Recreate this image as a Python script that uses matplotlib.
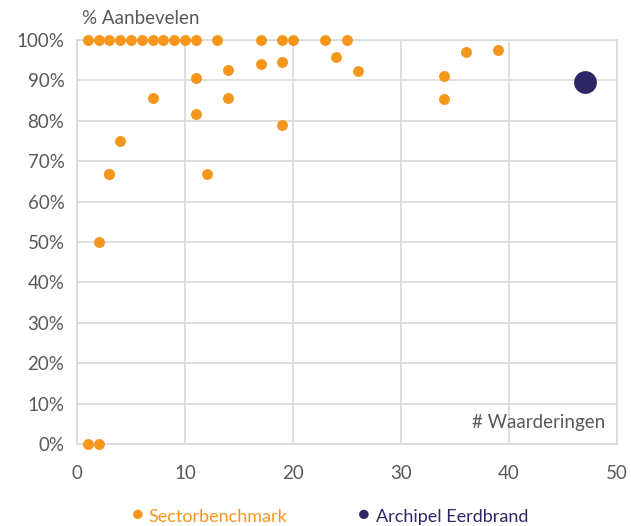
import matplotlib.pyplot as plt
from matplotlib.ticker import PercentFormatter

plt.rcParams['font.family'] = ['Lato', 'DejaVu Sans']

# Sectorbenchmark: aantal waarderingen en % aanbevelen
bench_x = [1, 2, 3, 4, 5, 6, 7, 8, 9, 10, 11, 13, 17, 19, 20, 23, 25,
           11, 14, 17, 19, 24, 26, 7, 14, 11, 4, 3, 3, 12, 19, 2, 1, 2,
           34, 34, 36, 39]
bench_y = [100, 100, 100, 100, 100, 100, 100, 100, 100, 100, 100, 100, 100, 100, 100, 100, 100,
           90.7, 92.6, 94.1, 94.6, 95.7, 92.3, 85.6, 85.6, 81.6, 75, 66.7, 66.7, 66.7, 79, 50, 0, 0,
           91, 85.3, 97, 97.4]

# Archipel Eerdbrand
own_x = [47]
own_y = [89.5]

orange = '#F5971D'
navy = '#2E2765'
grey = '#595959'

fig = plt.figure(figsize=(6.31, 5.26), dpi=100)
ax = fig.add_axes([0.122, 0.156, 0.856, 0.768])

ax.scatter(bench_x, bench_y, s=62, color=orange, zorder=3, clip_on=False, linewidths=0)
ax.scatter(own_x, own_y, s=270, color=navy, zorder=4, clip_on=False, linewidths=0)

ax.set_xlim(0, 50)
ax.set_ylim(0, 100)
ax.set_xticks(range(0, 51, 10))
ax.set_yticks(range(0, 101, 10))
ax.yaxis.set_major_formatter(PercentFormatter(decimals=0))
ax.grid(True, color='#D9D9D9', linewidth=1.2)
ax.set_axisbelow(True)
for side in ['top', 'right', 'left', 'bottom']:
    ax.spines[side].set_color('#D9D9D9')
    ax.spines[side].set_linewidth(1.2)
ax.tick_params(length=0, labelsize=13.5, labelcolor=grey, pad=9)
ax.tick_params(axis='x', pad=15)

fig.text(0.130, 0.965, '% Aanbevelen', color=grey, fontsize=13.5, va='center', ha='left')
ax.text(0.978, 0.054, '# Waarderingen', transform=ax.transAxes, color=grey,
        fontsize=13.5, ha='right', va='center')

# legenda onderaan
fig.text(0.2187, 0.021, '●', color=orange, fontsize=14, ha='center', va='center')
fig.text(0.236, 0.017, 'Sectorbenchmark', color=orange, fontsize=13, ha='left', va='center')
fig.text(0.577, 0.021, '●', color=navy, fontsize=14, ha='center', va='center')
fig.text(0.596, 0.017, 'Archipel Eerdbrand', color=navy, fontsize=13, ha='left', va='center')

fig.savefig('out.png', dpi=100)
